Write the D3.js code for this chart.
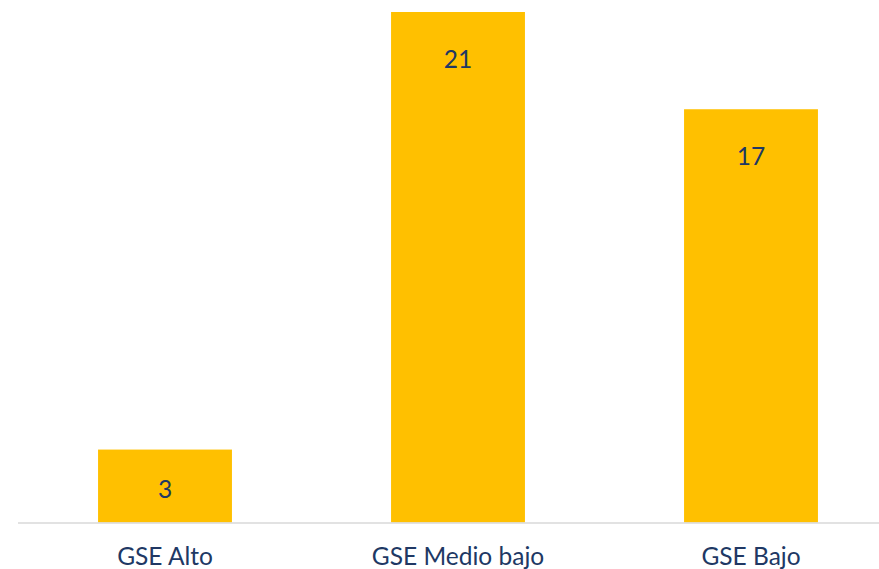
<!DOCTYPE html>
<html>
<head>
<meta charset="utf-8">
<script src="https://cdn.jsdelivr.net/npm/d3@7"></script>
<style>
html,body{margin:0;padding:0;background:#fff;}
svg{display:block;}
</style>
</head>
<body>
<script>
const categories = ["GSE Alto", "GSE Medio bajo", "GSE Bajo"];
const values = [3, 21, 17];

const W = 879, H = 569;
const baseline = 522.5;
const svg = d3.select("body").append("svg").attr("width", W).attr("height", H);

const x = d3.scaleBand().domain(categories).range([18.5, 897.5])
  .paddingInner(0.543).paddingOuter(0.2715);
const y = d3.scaleLinear().domain([0, 21]).range([baseline, 12]);

const font = "Lato, 'Open Sans', sans-serif";
const textColor = "#203864";
const fs = 24.5;

svg.selectAll("rect.bar").data(values).join("rect")
  .attr("class", "bar")
  .attr("x", (d, i) => x(categories[i]))
  .attr("width", x.bandwidth())
  .attr("y", d => y(d))
  .attr("height", d => baseline - y(d))
  .attr("fill", "#FFC000");

const axis = svg.append("g").attr("transform", `translate(0,${baseline})`)
  .call(d3.axisBottom(x).tickSize(0).tickPadding(0));
axis.select(".domain").attr("d", `M18,0.5H${W}`).attr("stroke", "#D9D9D9").attr("stroke-width", 1.5);
axis.selectAll(".tick text")
  .attr("y", 42.5).attr("dy", 0)
  .attr("font-family", font).attr("font-size", fs)
  .attr("fill", textColor);

svg.selectAll("text.val").data(values).join("text")
  .attr("class", "val")
  .attr("x", (d, i) => x(categories[i]) + x.bandwidth() / 2)
  .attr("y", d => Math.min(y(d) + 56, baseline - 24.5))
  .attr("text-anchor", "middle")
  .attr("font-family", font).attr("font-size", fs)
  .attr("fill", textColor)
  .text(d => d);
</script>
</body>
</html>
